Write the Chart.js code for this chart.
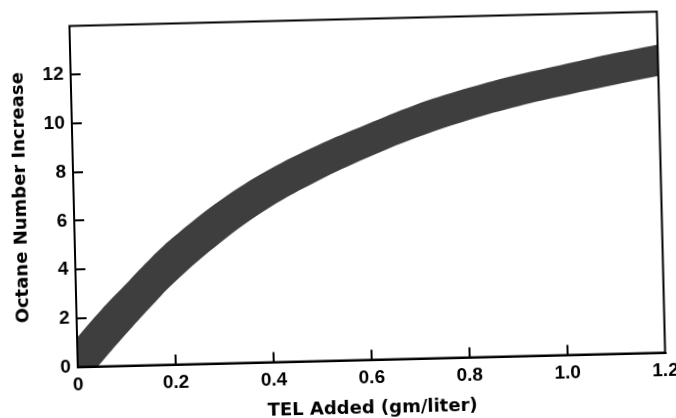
<!DOCTYPE html>
<html>
<head>
<meta charset="utf-8">
<script src="https://cdn.jsdelivr.net/npm/chart.js@4/dist/chart.umd.min.js"></script>
<style>
  html, body { margin: 0; padding: 0; background: #fff; overflow: hidden; width: 676px; height: 418px; }
  #c { display: block; width: 676px; height: 440px; transform: rotate(-1.4deg); transform-origin: 338px 209px; }
</style>
</head>
<body>
<canvas id="c" width="676" height="440"></canvas>
<script>
// TEL added (gm/liter)
const xValues = [0, 0.05, 0.1, 0.15, 0.2, 0.3, 0.4, 0.5, 0.6, 0.7, 0.8, 0.9, 1.0, 1.1, 1.2];
// upper edge of the octane-increase band
const upperBound = [1.2, 2.3, 3.3, 4.3, 5.2, 6.7, 7.9, 8.85, 9.65, 10.4, 11.0, 11.5, 11.9, 12.3, 12.65];
// lower edge of the octane-increase band
const lowerBound = [-0.9, 0.2, 1.3, 2.35, 3.35, 5.0, 6.35, 7.4, 8.28, 9.05, 9.68, 10.2, 10.62, 11.0, 11.36];
const xTicks = [0, 0.2, 0.4, 0.6, 0.8, 1.0, 1.2];
const yTicks = [0, 2, 4, 6, 8, 10, 12];
const xTitle = 'TEL Added (gm/liter)';
const yTitle = 'Octane Number Increase';

const TICK_FONT = 'Liberation Sans';
const TITLE_FONT = 'DejaVu Sans';
const bandColor = '#3e3e3e';

const frame = {
  id: 'frame',
  afterDatasetsDraw(chart) {
    const a = chart.chartArea, ctx = chart.ctx;
    ctx.save();
    ctx.strokeStyle = '#000';
    ctx.lineWidth = 2;
    ctx.strokeRect(a.left, a.top, a.right - a.left, a.bottom - a.top);
    ctx.restore();
  }
};

new Chart(document.getElementById('c'), {
  type: 'line',
  data: {
    datasets: [
      {
        label: 'lower',
        data: xValues.map((x, i) => ({ x, y: lowerBound[i] })),
        borderWidth: 0,
        pointRadius: 0,
        fill: false,
        tension: 0.4
      },
      {
        label: 'upper',
        data: xValues.map((x, i) => ({ x, y: upperBound[i] })),
        borderWidth: 0,
        pointRadius: 0,
        backgroundColor: bandColor,
        fill: '-1',
        tension: 0.4
      }
    ]
  },
  options: {
    responsive: false,
    animation: false,
    devicePixelRatio: 1,
    layout: { padding: { left: 0, top: 19.5, right: 14.5, bottom: 0 } },
    plugins: { legend: { display: false }, tooltip: { enabled: false } },
    scales: {
      x: {
        type: 'linear',
        min: 0, max: 1.2,
        afterBuildTicks: s => { s.ticks = xTicks.map(v => ({ value: v })); },
        afterFit: s => { s.height = 79.5; s.paddingLeft = 0; s.paddingRight = 0; },
        border: { display: true, color: '#000', width: 2 },
        grid: { drawOnChartArea: false, drawTicks: true, tickLength: -10, lineWidth: 2,
                color: c => (c.tick && (c.tick.value === 0 || c.tick.value === 1.2)) ? 'rgba(0,0,0,0)' : '#000' },
        ticks: { padding: 17, color: '#000', font: { family: TICK_FONT, size: 19, weight: 'bold' },
                 callback: v => (v === 0 ? '0' : v.toFixed(1)) },
        title: { display: true, text: xTitle, color: '#000', font: { family: TITLE_FONT, size: 18, weight: 'bold' },
                 padding: { top: 0, bottom: 20 } }
      },
      y: {
        type: 'linear',
        min: 0, max: 14,
        afterBuildTicks: s => { s.ticks = yTicks.map(v => ({ value: v })); },
        afterFit: s => { s.width = 74; s.paddingTop = 0; s.paddingBottom = 0; },
        border: { display: true, color: '#000', width: 2 },
        grid: { drawOnChartArea: false, drawTicks: true, tickLength: -10, lineWidth: 2,
                color: c => (c.tick && c.tick.value === 0) ? 'rgba(0,0,0,0)' : '#000' },
        ticks: { padding: 17, color: '#000', font: { family: TICK_FONT, size: 19, weight: 'bold' } },
        title: { display: true, text: yTitle, color: '#000', font: { family: TITLE_FONT, size: 18, weight: 'bold' },
                 padding: { top: 11, bottom: 0 } }
      }
    }
  },
  plugins: [frame]
});
</script>
</body>
</html>
